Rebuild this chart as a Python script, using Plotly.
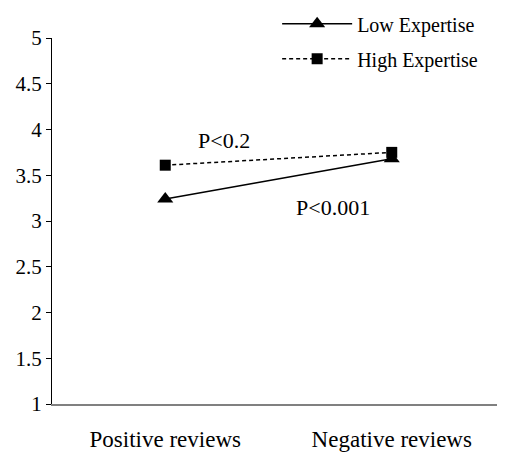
import plotly.graph_objects as go

categories = ["Positive reviews", "Negative reviews"]
low_expertise = [3.24, 3.68]
high_expertise = [3.61, 3.75]
y_ticks = [1, 1.5, 2, 2.5, 3, 3.5, 4, 4.5, 5]
y_tick_labels = ["1", "1.5", "2", "2.5", "3", "3.5", "4", "4.5", "5"]
annotations_text = ["P<0.2", "P<0.001"]

FONT = "Liberation Serif, Times New Roman, serif"

fig = go.Figure()
fig.add_trace(go.Scatter(
    x=[0, 1], y=low_expertise, name="Low Expertise", mode="lines+markers",
    legendgroup="low",
    line=dict(color="black", width=1.5),
    marker=dict(symbol="triangle-up", size=14, color="black"),
))
fig.add_trace(go.Scatter(
    x=[0, 1], y=high_expertise, name="High Expertise", mode="lines+markers",
    legendgroup="high",
    line=dict(color="black", width=1.5, dash="4px,3px"),
    marker=dict(symbol="square", size=11, color="black"),
))

fig.add_annotation(x=0.26, y=3.885, text=annotations_text[0], showarrow=False,
                   font=dict(family=FONT, size=22, color="black"))
fig.add_annotation(x=0.74, y=3.15, text=annotations_text[1], showarrow=False,
                   font=dict(family=FONT, size=22, color="black"))

fig.update_layout(
    width=497, height=449,
    margin=dict(l=44, r=0, t=30, b=53, autoexpand=False),
    plot_bgcolor="white", paper_bgcolor="white",
    font=dict(family=FONT, color="black"),
    showlegend=True,
    legend=dict(x=0.497, y=1.092, xanchor="left", yanchor="top",
                font=dict(family=FONT, size=20, color="black"),
                itemwidth=70, bgcolor="rgba(0,0,0,0)",
                traceorder="grouped", tracegroupgap=6),
    xaxis=dict(range=[-0.5, 1.5], tickvals=[0, 1], ticktext=categories,
               showgrid=False, zeroline=False, showline=True,
               linecolor="#808080", linewidth=1.5, ticks="",
               tickfont=dict(family=FONT, size=23, color="black"),
               ticklabelstandoff=14),
    yaxis=dict(range=[1, 5], tickvals=y_ticks, ticktext=y_tick_labels,
               showgrid=False, zeroline=False, showline=True,
               linecolor="black", linewidth=1, ticks="outside", ticklen=5,
               tickcolor="black",
               tickfont=dict(family=FONT, size=21, color="black")),
)

fig.write_html("out.html")
